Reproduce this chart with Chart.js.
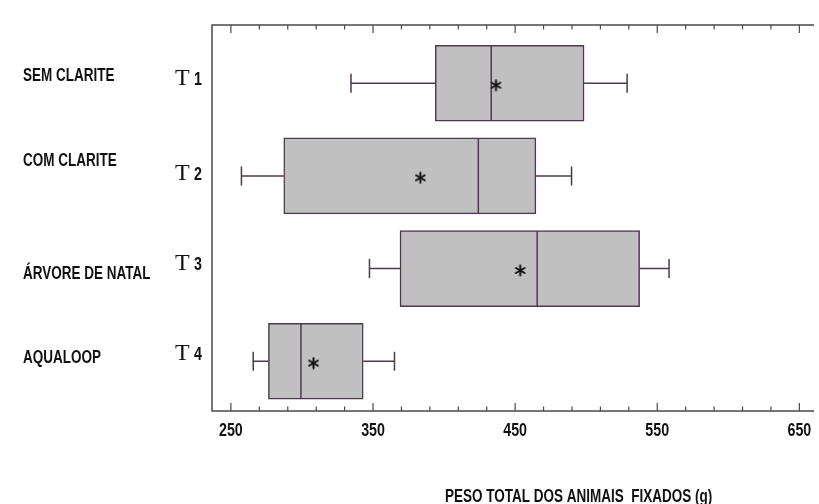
<!DOCTYPE html>
<html>
<head>
<meta charset="utf-8">
<script src="https://cdn.jsdelivr.net/npm/chart.js@4/dist/chart.umd.min.js"></script>
<style>
  html, body { margin: 0; padding: 0; background: #fff; }
  #wrap { position: relative; width: 819px; height: 504px; }
</style>
</head>
<body>
<div id="wrap"><canvas id="grafico"></canvas></div>
<script>
// dados (peso total dos animais fixados, g)
const categorias  = ['SEM CLARITE', 'COM CLARITE', 'ÁRVORE DE NATAL', 'AQUALOOP'];
const tratamentos = ['1', '2', '3', '4'];
const minimos  = [334.5, 257.4, 347.5, 265.7];
const quartil1 = [393.8, 287.2, 369.0, 276.4];
const medianas = [433.2, 424.1, 465.5, 299.3];
const quartil3 = [498.5, 464.6, 537.6, 343.1];
const maximos  = [528.8, 489.7, 558.3, 365.1];
const medias   = [436.5, 383.3, 453.6, 308.1];
const xTicks   = [250, 350, 450, 550, 650];
const tituloX  = 'PESO TOTAL DOS ANIMAIS  FIXADOS (g)';

// deslocamento vertical dos rótulos da esquerda (px), como no original
const ajusteNome = [-5, -12, 8, -1];
const ajusteT    = [-2, 1, -2, -5];

const SANS   = "'Liberation Sans', Arial, sans-serif";
const BORDA  = '#4e3a4e';
const MOLDURA = '#4a4a4a';
const APERTO = 0.75; // fonte condensada: comprime na horizontal

// texto "estreito" (o original usa uma fonte condensada)
function textoEstreito(ctx, txt, x, y, px, align) {
  ctx.save();
  ctx.font = 'bold ' + px + 'px ' + SANS;
  const w = ctx.measureText(txt).width * APERTO;
  let x0 = x;
  if (align === 'center') x0 = x - w / 2;
  ctx.translate(x0, y);
  ctx.scale(APERTO, 1);
  ctx.textAlign = 'left';
  ctx.textBaseline = 'alphabetic';
  ctx.fillText(txt, 0, 0);
  ctx.restore();
}

// asterisco de 6 pontas para a média
const asterisco = document.createElement('canvas');
asterisco.width = 13; asterisco.height = 13;
(function () {
  const c = asterisco.getContext('2d');
  c.strokeStyle = '#111';
  c.lineWidth = 2;
  c.lineCap = 'round';
  for (let k = 0; k < 3; k++) {
    const ang = Math.PI / 2 + k * Math.PI / 3;
    c.beginPath();
    c.moveTo(6.5 + Math.cos(ang) * 5, 6.5 + Math.sin(ang) * 5);
    c.lineTo(6.5 - Math.cos(ang) * 5, 6.5 - Math.sin(ang) * 5);
    c.stroke();
  }
})();

// moldura, marcas internas e textos
const moldura = {
  id: 'moldura',
  afterDraw(chart) {
    const { ctx, chartArea: a, scales: { x, y } } = chart;
    ctx.save();
    ctx.strokeStyle = MOLDURA;
    ctx.lineWidth = 1.5;
    ctx.beginPath();
    ctx.moveTo(a.right, a.top); ctx.lineTo(a.left, a.top);
    ctx.lineTo(a.left, a.bottom); ctx.lineTo(a.right, a.bottom);
    ctx.stroke();

    ctx.lineWidth = 1.2;
    for (let v = 250; v <= 660; v += 20) {
      const px = x.getPixelForValue(v);
      if (px < a.left || px > a.right) continue;
      const len = xTicks.includes(v) ? 8 : 4.5;
      ctx.beginPath();
      ctx.moveTo(px, a.top); ctx.lineTo(px, a.top + len);
      ctx.moveTo(px, a.bottom); ctx.lineTo(px, a.bottom - len);
      ctx.stroke();
    }

    ctx.fillStyle = '#111';
    xTicks.forEach(v => textoEstreito(ctx, String(v), x.getPixelForValue(v), a.bottom + 25, 19, 'center'));
    textoEstreito(ctx, tituloX, 445, 502, 18, 'left');

    categorias.forEach((nome, i) => {
      const cy = y.getPixelForValue(i + 1);
      textoEstreito(ctx, nome, 23, cy + 2.5 + ajusteNome[i], 18, 'left');
      ctx.font = '24px "Liberation Serif", "Times New Roman", serif';
      ctx.textAlign = 'left';
      ctx.textBaseline = 'alphabetic';
      ctx.fillText('T', 175, cy + 3.5 + ajusteT[i]);
      textoEstreito(ctx, tratamentos[i], 194, cy + 3.5 + ajusteT[i], 19, 'left');
    });
    ctx.restore();
  }
};

// bigodes e medianas sobre as caixas
const bigodes = {
  id: 'bigodes',
  afterDatasetDraw(chart, args) {
    if (args.meta.type !== 'bar') return;
    const { ctx, scales: { x, y } } = chart;
    ctx.save();
    ctx.strokeStyle = BORDA;
    ctx.lineWidth = 1.5;
    categorias.forEach((_, i) => {
      const cy = y.getPixelForValue(i + 1);
      const pMin = x.getPixelForValue(minimos[i]);
      const pQ1 = x.getPixelForValue(quartil1[i]);
      const pQ3 = x.getPixelForValue(quartil3[i]);
      const pMax = x.getPixelForValue(maximos[i]);
      const pMed = x.getPixelForValue(medianas[i]);
      ctx.beginPath();
      ctx.moveTo(pMin, cy); ctx.lineTo(pQ1, cy);
      ctx.moveTo(pQ3, cy); ctx.lineTo(pMax, cy);
      ctx.moveTo(pMin, cy - 9.5); ctx.lineTo(pMin, cy + 9.5);
      ctx.moveTo(pMax, cy - 9.5); ctx.lineTo(pMax, cy + 9.5);
      ctx.moveTo(pMed, cy - 37.5); ctx.lineTo(pMed, cy + 37.5);
      ctx.stroke();
    });
    ctx.restore();
  }
};

new Chart(document.getElementById('grafico'), {
  type: 'bar',
  data: {
    datasets: [
      {
        type: 'bar',
        indexAxis: 'y',
        data: categorias.map((_, i) => ({ y: i + 1, x: [quartil1[i], quartil3[i]] })),
        backgroundColor: '#c0c0c0',
        borderColor: BORDA,
        borderWidth: 1.5,
        borderSkipped: false,
        barThickness: 76,
        order: 2
      },
      {
        type: 'scatter',
        data: categorias.map((_, i) => ({ x: medias[i], y: i + 1 + 0.02 })),
        pointStyle: asterisco,
        order: 1
      }
    ]
  },
  options: {
    responsive: true,
    maintainAspectRatio: false,
    animation: false,
    layout: { padding: { left: 212, top: 25, right: 0, bottom: 93 } },
    plugins: { legend: { display: false }, tooltip: { enabled: false } },
    scales: {
      x: { type: 'linear', display: false, offset: false, min: 236.7, max: 660.3 },
      y: { type: 'linear', display: false, offset: false, reverse: true, min: 0.371, max: 4.537 }
    }
  },
  plugins: [bigodes, moldura]
});
</script>
</body>
</html>
